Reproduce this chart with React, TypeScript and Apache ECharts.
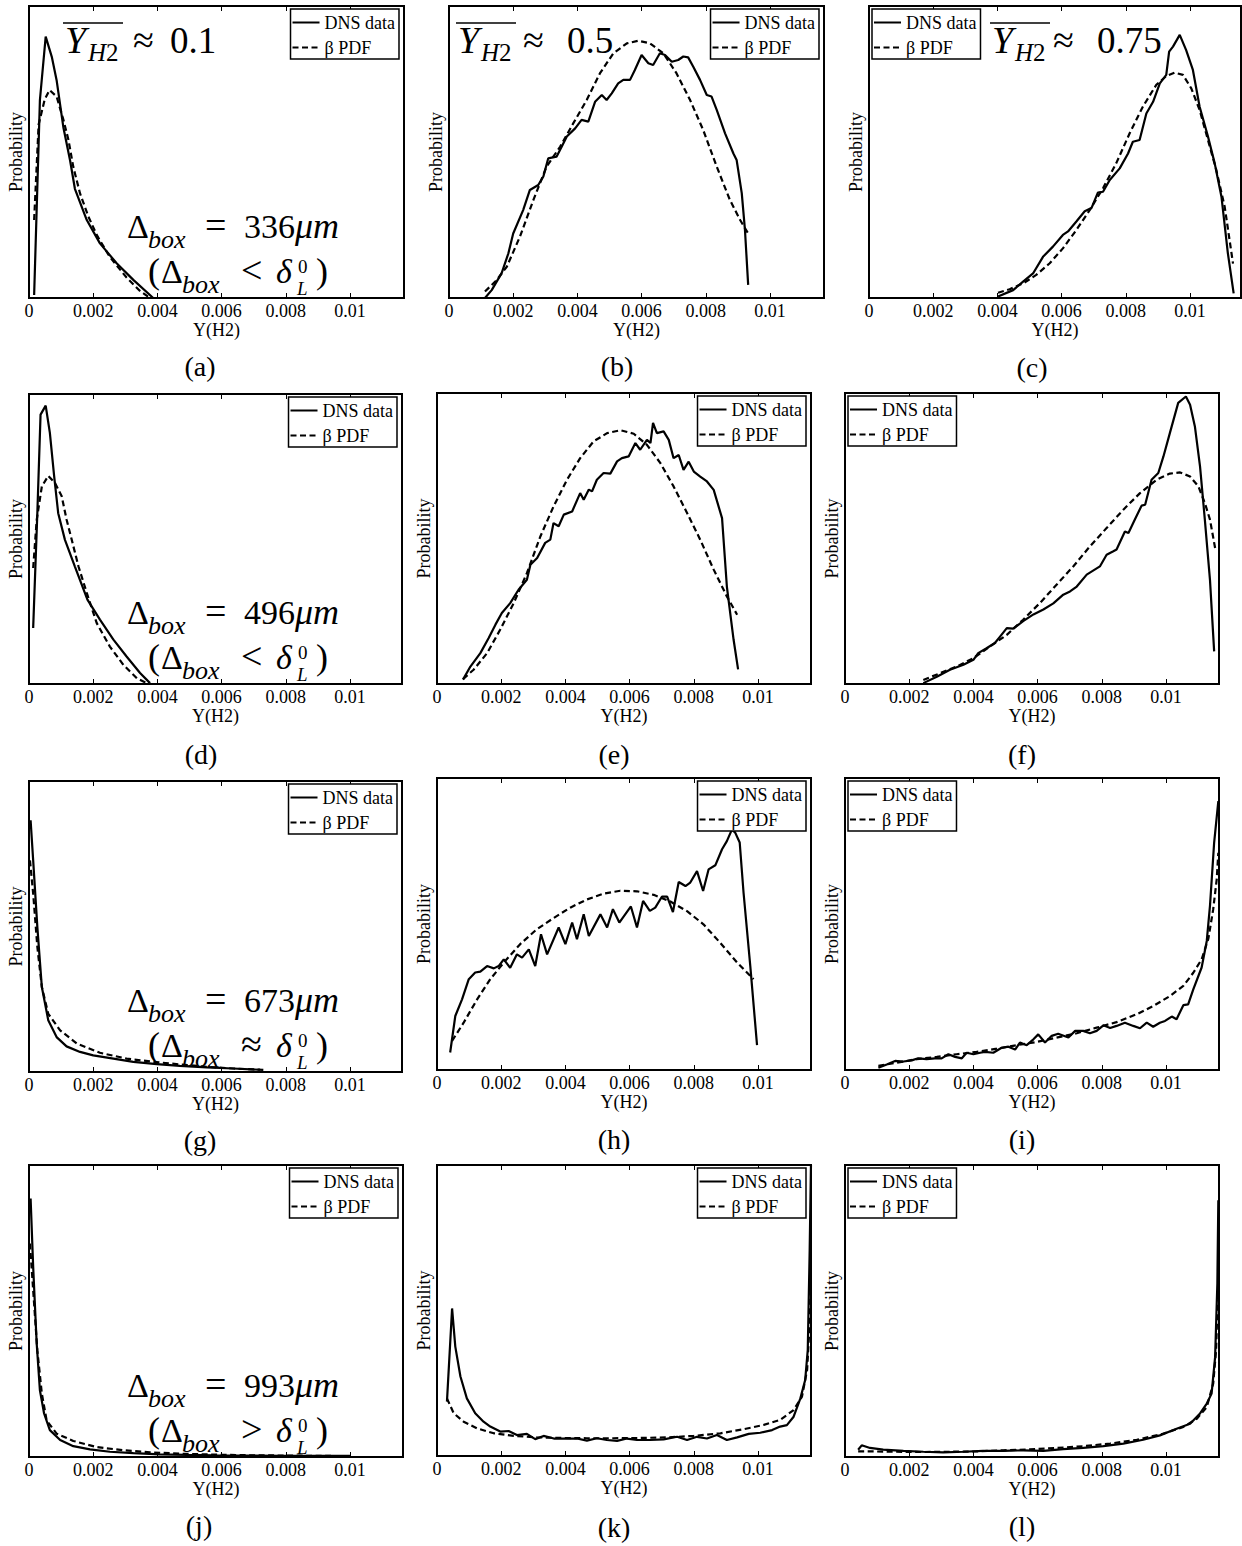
import React, { useEffect, useRef } from 'react';
import * as echarts from 'echarts';

const FONT_NAME = 'Liberation Serif';
const FONT = '"Liberation Serif", "Times New Roman", Times, serif';

// ---------- texts ----------
const xTickLabels = ['0', '0.002', '0.004', '0.006', '0.008', '0.01'];
const xTickStep = 0.002;
const xAxisName = 'Y(H2)';
const yAxisName = 'Probability';
const legendNames = ['DNS data', 'β PDF'];
const panelLetters = ['(a)', '(b)', '(c)', '(d)', '(e)', '(f)', '(g)', '(h)', '(i)', '(j)', '(k)', '(l)'];
const meanValues = ['0.1', '0.5', '0.75'];
const boxSizes = ['336', '496', '673', '993'];
const boxRelations = ['<', '<', '≈', '>'];

// ---------- data: [Y(H2), relative probability] ----------
const dnsA = [[0.00016,0.01],[0.00034,0.678],[0.00052,0.895],[0.00071,0.826],[0.00086,0.746],[0.00107,0.585],[0.00128,0.471],[0.00143,0.374],[0.0018,0.267],[0.00221,0.187],[0.00273,0.119],[0.00325,0.062],[0.00387,0.0]];
const betaA = [[0.00016,0.267],[0.0003,0.594],[0.00049,0.68],[0.00064,0.712],[0.00086,0.69],[0.00107,0.611],[0.00123,0.541],[0.00138,0.449],[0.00159,0.358],[0.00185,0.279],[0.00211,0.216],[0.00252,0.14],[0.00304,0.07],[0.00345,0.025],[0.00377,0.0]];

const dnsB = [[0.00112,0],[0.00133,0.027],[0.00164,0.085],[0.00185,0.153],[0.002,0.221],[0.00231,0.301],[0.00252,0.37],[0.00278,0.387],[0.00294,0.416],[0.00309,0.478],[0.00335,0.484],[0.00351,0.518],[0.00367,0.553],[0.00393,0.581],[0.00413,0.61],[0.00434,0.604],[0.00455,0.672],[0.00476,0.695],[0.00491,0.678],[0.00507,0.701],[0.00527,0.735],[0.00543,0.747],[0.00564,0.747],[0.00579,0.781],[0.006,0.832],[0.00621,0.804],[0.00636,0.798],[0.00657,0.838],[0.00673,0.832],[0.00694,0.809],[0.00714,0.815],[0.0073,0.827],[0.00745,0.824],[0.00761,0.792],[0.00782,0.747],[0.00803,0.695],[0.00818,0.69],[0.00834,0.644],[0.0086,0.564],[0.00886,0.495],[0.00896,0.473],[0.00912,0.359],[0.00922,0.233],[0.00932,0.045]];
const betaB = [[0.00112,0.022],[0.00149,0.062],[0.0018,0.107],[0.00221,0.21],[0.00263,0.336],[0.00304,0.45],[0.00346,0.518],[0.00387,0.598],[0.00429,0.678],[0.0047,0.769],[0.00512,0.838],[0.00554,0.872],[0.0059,0.881],[0.00626,0.872],[0.00668,0.838],[0.00709,0.769],[0.00751,0.678],[0.00792,0.575],[0.00834,0.45],[0.00875,0.336],[0.00907,0.267],[0.00932,0.221]];

const dnsC = [[0.00402,0.005],[0.00449,0.027],[0.0048,0.056],[0.00511,0.084],[0.00542,0.141],[0.00573,0.176],[0.00604,0.216],[0.0062,0.228],[0.00646,0.262],[0.00672,0.297],[0.00693,0.308],[0.00713,0.361],[0.00729,0.364],[0.0075,0.404],[0.00781,0.444],[0.00807,0.495],[0.00822,0.535],[0.00843,0.541],[0.00864,0.632],[0.00885,0.672],[0.00906,0.735],[0.00926,0.764],[0.00935,0.844],[0.00947,0.861],[0.00968,0.901],[0.00988,0.849],[0.01009,0.781],[0.0103,0.655],[0.01056,0.553],[0.01077,0.461],[0.01098,0.347],[0.01118,0.153],[0.01136,0.016]];
const betaC = [[0.00402,0.018],[0.00438,0.03],[0.0048,0.05],[0.00521,0.079],[0.00563,0.119],[0.00604,0.17],[0.00646,0.233],[0.00688,0.302],[0.00729,0.376],[0.0077,0.461],[0.00812,0.564],[0.00853,0.655],[0.00895,0.73],[0.00926,0.76],[0.00952,0.772],[0.00978,0.764],[0.01004,0.718],[0.0103,0.644],[0.01056,0.541],[0.01082,0.438],[0.01108,0.313],[0.01134,0.118]];

const dnsD = [[0.00013,0.193],[0.00026,0.59],[0.00036,0.929],[0.00052,0.96],[0.00065,0.866],[0.00078,0.72],[0.00091,0.589],[0.00112,0.497],[0.00143,0.405],[0.00182,0.291],[0.00221,0.222],[0.00263,0.153],[0.00304,0.095],[0.00346,0.038],[0.00377,0.003]];
const betaD = [[0.00013,0.4],[0.00024,0.566],[0.0004,0.681],[0.0006,0.718],[0.00081,0.693],[0.00102,0.647],[0.00117,0.567],[0.00133,0.498],[0.00154,0.406],[0.0018,0.314],[0.00211,0.21],[0.00252,0.129],[0.00294,0.066],[0.00336,0.02],[0.00367,0.003]];

const dnsE = [[0.00081,0.015],[0.00104,0.06],[0.00135,0.106],[0.00161,0.158],[0.00182,0.204],[0.00202,0.244],[0.00228,0.278],[0.00254,0.324],[0.0028,0.358],[0.00291,0.41],[0.00312,0.433],[0.00337,0.485],[0.00353,0.496],[0.00363,0.553],[0.00379,0.542],[0.00395,0.582],[0.00421,0.593],[0.00446,0.656],[0.00457,0.633],[0.00473,0.668],[0.00483,0.662],[0.00498,0.702],[0.00519,0.725],[0.0054,0.723],[0.00561,0.765],[0.00576,0.776],[0.00597,0.782],[0.00618,0.828],[0.00633,0.805],[0.00654,0.839],[0.00665,0.828],[0.00673,0.897],[0.00685,0.862],[0.00706,0.868],[0.00722,0.839],[0.00737,0.776],[0.00753,0.787],[0.00768,0.736],[0.00784,0.764],[0.008,0.73],[0.0082,0.713],[0.00841,0.696],[0.00862,0.667],[0.00888,0.57],[0.00903,0.335],[0.00924,0.152],[0.00938,0.05]];
const betaE = [[0.00081,0.017],[0.00114,0.049],[0.00156,0.106],[0.00197,0.187],[0.00239,0.278],[0.0028,0.381],[0.00322,0.507],[0.00363,0.61],[0.00405,0.702],[0.00446,0.776],[0.00488,0.834],[0.0053,0.862],[0.00571,0.872],[0.00613,0.86],[0.00654,0.822],[0.00696,0.759],[0.00737,0.679],[0.00779,0.588],[0.0082,0.496],[0.00862,0.393],[0.00903,0.301],[0.00935,0.238]];

const dnsF = [[0.00244,0.003],[0.00286,0.025],[0.00327,0.049],[0.00369,0.066],[0.004,0.083],[0.00415,0.106],[0.00441,0.123],[0.00467,0.141],[0.00483,0.163],[0.00504,0.192],[0.00524,0.19],[0.00555,0.216],[0.00587,0.239],[0.00618,0.256],[0.00649,0.277],[0.0068,0.307],[0.00701,0.318],[0.00722,0.335],[0.00753,0.376],[0.00794,0.404],[0.00815,0.444],[0.00836,0.456],[0.00846,0.462],[0.00872,0.524],[0.00883,0.519],[0.00903,0.565],[0.00924,0.613],[0.00935,0.616],[0.00955,0.702],[0.00976,0.725],[0.00992,0.782],[0.01012,0.862],[0.01038,0.966],[0.01062,0.988],[0.01075,0.96],[0.0109,0.885],[0.01106,0.748],[0.01121,0.565],[0.01137,0.358],[0.0115,0.112]];
const betaF = [[0.00244,0.014],[0.00296,0.037],[0.00348,0.06],[0.004,0.089],[0.00452,0.129],[0.00504,0.169],[0.00555,0.221],[0.00607,0.278],[0.00659,0.341],[0.00711,0.404],[0.00763,0.473],[0.00815,0.536],[0.00867,0.599],[0.00919,0.656],[0.00971,0.702],[0.01012,0.723],[0.01044,0.727],[0.01075,0.713],[0.01101,0.679],[0.01121,0.622],[0.01137,0.565],[0.01153,0.467]];

const dnsG = [[0.00005,0.865],[0.00013,0.727],[0.00026,0.498],[0.0004,0.292],[0.0006,0.178],[0.00086,0.12],[0.00117,0.088],[0.00159,0.069],[0.002,0.057],[0.00263,0.046],[0.00325,0.035],[0.00398,0.027],[0.0047,0.021],[0.00554,0.016],[0.00636,0.012],[0.0073,0.007]];
const betaG = [[0.00003,0.727],[0.00013,0.613],[0.00026,0.43],[0.0004,0.292],[0.0006,0.2],[0.00097,0.143],[0.00149,0.098],[0.00221,0.066],[0.00304,0.046],[0.00387,0.035],[0.0047,0.026],[0.00554,0.018],[0.00636,0.012],[0.0072,0.008]];

const dnsH = [[0.00041,0.06],[0.00057,0.185],[0.00078,0.242],[0.00099,0.311],[0.00119,0.334],[0.00135,0.337],[0.00156,0.356],[0.00177,0.348],[0.00192,0.356],[0.00208,0.379],[0.00228,0.35],[0.00249,0.396],[0.00265,0.385],[0.00286,0.413],[0.00306,0.356],[0.00324,0.465],[0.00343,0.396],[0.00379,0.488],[0.004,0.431],[0.00421,0.505],[0.00436,0.448],[0.00457,0.533],[0.00473,0.459],[0.00509,0.533],[0.0053,0.488],[0.00548,0.551],[0.00568,0.505],[0.00604,0.56],[0.00623,0.488],[0.00642,0.579],[0.00663,0.545],[0.0068,0.556],[0.00701,0.594],[0.00717,0.594],[0.00735,0.541],[0.00753,0.644],[0.00774,0.63],[0.00789,0.642],[0.0081,0.681],[0.00829,0.613],[0.00846,0.687],[0.00867,0.701],[0.00888,0.756],[0.00903,0.784],[0.00919,0.824],[0.00929,0.813],[0.00943,0.779],[0.00955,0.607],[0.00976,0.356],[0.00997,0.085]];
const betaH = [[0.00047,0.1],[0.00083,0.162],[0.00125,0.242],[0.00166,0.311],[0.00208,0.368],[0.00259,0.431],[0.00311,0.482],[0.00364,0.521],[0.00415,0.556],[0.00467,0.584],[0.00519,0.604],[0.00571,0.614],[0.00623,0.612],[0.00675,0.6],[0.00727,0.577],[0.00779,0.544],[0.0083,0.499],[0.00882,0.436],[0.00935,0.368],[0.00986,0.311]];

const dnsI = [[0.00104,0.008],[0.0013,0.019],[0.00156,0.031],[0.00182,0.029],[0.00208,0.033],[0.00228,0.04],[0.00254,0.037],[0.0028,0.04],[0.00301,0.04],[0.00322,0.054],[0.00343,0.045],[0.00364,0.04],[0.00379,0.059],[0.004,0.054],[0.00421,0.059],[0.00436,0.062],[0.00462,0.059],[0.00488,0.076],[0.00509,0.08],[0.0053,0.07],[0.00545,0.094],[0.00566,0.085],[0.00587,0.105],[0.00602,0.122],[0.00623,0.094],[0.00644,0.117],[0.00664,0.124],[0.00696,0.111],[0.00717,0.134],[0.00742,0.134],[0.00763,0.126],[0.00784,0.134],[0.00805,0.153],[0.00826,0.144],[0.00846,0.151],[0.00872,0.162],[0.00898,0.151],[0.00919,0.143],[0.0094,0.162],[0.0096,0.148],[0.00981,0.162],[0.00997,0.168],[0.01018,0.183],[0.01033,0.174],[0.01054,0.222],[0.01069,0.225],[0.01085,0.276],[0.01111,0.351],[0.01127,0.442],[0.01137,0.562],[0.0115,0.779],[0.01163,0.921]];
const betaI = [[0.00104,0.014],[0.00161,0.025],[0.00223,0.037],[0.00286,0.045],[0.00348,0.054],[0.0041,0.062],[0.00473,0.073],[0.00535,0.085],[0.00597,0.096],[0.00659,0.111],[0.00722,0.126],[0.00784,0.145],[0.00846,0.164],[0.00909,0.191],[0.0096,0.219],[0.01012,0.253],[0.01054,0.288],[0.01085,0.333],[0.01111,0.379],[0.01132,0.45],[0.01147,0.55],[0.01158,0.653],[0.01163,0.744]];

const dnsJ = [[0.00005,0.885],[0.00013,0.651],[0.00024,0.388],[0.00034,0.228],[0.00047,0.149],[0.00065,0.092],[0.00097,0.058],[0.00138,0.037],[0.0019,0.026],[0.00252,0.018],[0.00325,0.013],[0.00408,0.009],[0.00491,0.007],[0.00574,0.006],[0.00678,0.005],[0.00792,0.004],[0.00896,0.004],[0.01,0.004]];
const betaJ = [[0.00003,0.731],[0.00013,0.571],[0.00026,0.365],[0.0004,0.217],[0.00055,0.125],[0.00086,0.08],[0.00138,0.055],[0.00211,0.034],[0.00294,0.023],[0.00377,0.016],[0.00481,0.011],[0.00585,0.008],[0.00688,0.006],[0.00792,0.005],[0.00896,0.004],[0.01,0.003]];

const dnsK = [[0.00031,0.187],[0.00047,0.507],[0.00057,0.376],[0.00073,0.273],[0.00093,0.198],[0.00119,0.147],[0.00145,0.118],[0.00166,0.101],[0.00197,0.084],[0.00223,0.086],[0.00249,0.072],[0.0028,0.076],[0.00306,0.058],[0.00332,0.069],[0.00364,0.06],[0.00405,0.06],[0.00436,0.06],[0.00467,0.053],[0.00498,0.061],[0.00529,0.055],[0.00561,0.052],[0.00592,0.06],[0.00623,0.055],[0.00664,0.055],[0.00706,0.057],[0.00748,0.066],[0.00779,0.055],[0.0081,0.066],[0.00841,0.06],[0.00872,0.072],[0.00903,0.055],[0.00935,0.064],[0.00971,0.076],[0.01007,0.08],[0.01044,0.089],[0.01069,0.101],[0.0109,0.106],[0.01111,0.135],[0.01132,0.198],[0.01147,0.261],[0.01155,0.364],[0.01161,0.708],[0.01165,1.0]];
const betaK = [[0.00031,0.198],[0.00052,0.147],[0.00083,0.118],[0.00125,0.095],[0.00177,0.078],[0.00239,0.069],[0.00312,0.064],[0.00384,0.062],[0.00467,0.061],[0.0055,0.061],[0.00633,0.062],[0.00716,0.064],[0.008,0.069],[0.00883,0.078],[0.00955,0.092],[0.01018,0.107],[0.01069,0.124],[0.01111,0.158],[0.01137,0.204],[0.01153,0.296],[0.01161,0.456],[0.01165,0.616]];

const dnsL = [[0.00041,0.025],[0.00052,0.04],[0.00078,0.031],[0.00119,0.025],[0.00182,0.021],[0.00244,0.018],[0.00306,0.016],[0.00369,0.018],[0.0043,0.021],[0.00493,0.021],[0.00555,0.023],[0.00618,0.021],[0.0068,0.027],[0.00742,0.031],[0.00805,0.037],[0.00867,0.046],[0.00929,0.059],[0.00981,0.074],[0.01033,0.097],[0.01075,0.114],[0.01106,0.149],[0.01127,0.183],[0.01142,0.217],[0.01153,0.342],[0.0116,0.594],[0.01163,0.879]];
const betaL = [[0.00041,0.019],[0.00088,0.019],[0.00161,0.018],[0.00244,0.017],[0.00327,0.018],[0.0041,0.019],[0.00493,0.023],[0.00576,0.026],[0.00659,0.031],[0.00742,0.037],[0.00826,0.046],[0.00909,0.059],[0.00992,0.08],[0.01054,0.103],[0.01096,0.131],[0.01127,0.171],[0.01147,0.251],[0.01156,0.365],[0.01161,0.537]];

const dnsSeries = [dnsA, dnsB, dnsC, dnsD, dnsE, dnsF, dnsG, dnsH, dnsI, dnsJ, dnsK, dnsL];
const betaSeries = [betaA, betaB, betaC, betaD, betaE, betaF, betaG, betaH, betaI, betaJ, betaK, betaL];

// ---------- layout (pixels) ----------
const PX_PER_UNIT = 32100; // 0.01 of Y(H2) spans 321 px
const gridBoxes = [
  [29, 6, 375, 292], [449, 6, 375, 292], [869, 6, 372, 292],
  [29, 394, 373, 290], [437, 393, 374, 291], [845, 393, 374, 291],
  [29, 781, 373, 291], [437, 778, 374, 292], [845, 778, 374, 292],
  [29, 1165, 374, 292], [437, 1165, 374, 291], [845, 1165, 374, 292],
];
const legendOnLeft = [false, false, true, false, false, true, false, false, true, false, false, true];
const letterPos = [[200, 366], [617, 366], [1032, 367], [201, 754], [614, 754], [1022, 754], [200, 1140], [614, 1139], [1022, 1139], [199, 1525], [614, 1527], [1022, 1526]];
const meanPos = [[65, 133, 170], [458, 523, 567], [992, 1053, 1097]];
const boxPanels = [0, 3, 6, 9];

function tickLabel(v: number): string {
  const idx = Math.round(v / xTickStep);
  if (Math.abs(v - idx * xTickStep) < 1e-9 && idx >= 0 && idx < xTickLabels.length) return xTickLabels[idx];
  return '';
}

function mt(x: number, baseline: number, text: string, size: number, italic = false, align = 'left') {
  return {
    type: 'text', x, y: baseline - 0.34 * size, silent: true, z: 100,
    style: {
      text, fontSize: size, fontFamily: FONT_NAME, fontStyle: italic ? 'italic' : 'normal', fill: '#000',
      textAlign: align, textVerticalAlign: 'middle', align, verticalAlign: 'middle',
    },
  };
}

function buildOption() {
  const grid: any[] = [];
  const xAxis: any[] = [];
  const yAxis: any[] = [];
  const series: any[] = [];
  const legend: any[] = [];
  const elements: any[] = [];

  gridBoxes.forEach(([left, top, w, h], i) => {
    const max = w / PX_PER_UNIT;
    grid.push({ left, top, width: w, height: h, show: true, borderColor: '#000', borderWidth: 2, backgroundColor: 'transparent', containLabel: false });
    xAxis.push({
      type: 'value', gridIndex: i, position: 'bottom', min: 0, max, interval: xTickStep,
      axisLine: { show: false },
      axisTick: { show: true, inside: true, length: 5, lineStyle: { color: '#000', width: 1 } },
      axisLabel: { show: true, margin: 4, fontFamily: FONT, fontSize: 18, color: '#000', showMaxLabel: false, formatter: (v: number) => tickLabel(v) },
      splitLine: { show: false },
      name: xAxisName, nameLocation: 'middle', nameGap: 20,
      nameTextStyle: { fontFamily: FONT, fontSize: 18, color: '#000' },
    });
    xAxis.push({
      type: 'value', gridIndex: i, position: 'top', min: 0, max, interval: xTickStep,
      axisLine: { show: false },
      axisTick: { show: true, inside: true, length: 5, lineStyle: { color: '#000', width: 1 } },
      axisLabel: { show: false }, splitLine: { show: false },
    });
    yAxis.push({
      type: 'value', gridIndex: i, min: 0, max: 1,
      axisLine: { show: false }, axisTick: { show: false }, axisLabel: { show: false }, splitLine: { show: false },
      name: yAxisName, nameLocation: 'middle', nameGap: 4, nameRotate: 90,
      nameTextStyle: { fontFamily: FONT, fontSize: 18, color: '#000' },
    });
    series.push({
      type: 'line', name: legendNames[0], xAxisIndex: 2 * i, yAxisIndex: i, data: dnsSeries[i],
      symbol: 'none', showSymbol: false, smooth: false, z: 3,
      itemStyle: { color: '#000' }, lineStyle: { color: '#000', width: 2.2, type: 'solid' },
    });
    series.push({
      type: 'line', name: legendNames[1], xAxisIndex: 2 * i, yAxisIndex: i, data: betaSeries[i],
      symbol: 'none', showSymbol: false, smooth: false, z: 3,
      itemStyle: { color: '#000' }, lineStyle: { color: '#000', width: 2.2, type: [6, 3.5] },
    });
    const lg: any = {
      show: true, orient: 'vertical', top: top + 3,
      itemWidth: 27, itemHeight: 12, itemGap: 6, padding: [4, 4, 2, 1],
      borderColor: '#000', borderWidth: 1.5, backgroundColor: '#fff', selectedMode: false,
      itemStyle: { opacity: 0 },
      textStyle: { fontFamily: FONT, fontSize: 18, color: '#000', lineHeight: 19 },
      data: legendNames, z: 10,
    };
    if (legendOnLeft[i]) lg.left = left + 3; else lg.right = 1242 - (left + w - 5);
    legend.push(lg);

    const [lx, ly] = letterPos[i];
    elements.push({
      type: 'text', x: lx, y: ly, silent: true,
      style: { text: panelLetters[i], fontSize: 28, fontFamily: FONT_NAME, fill: '#000', textAlign: 'center', textVerticalAlign: 'middle', align: 'center', verticalAlign: 'middle' },
    });
  });

  // mean mass fraction annotations (a), (b), (c)
  meanPos.forEach(([x0, ax, nx], i) => {
    const base = 53;
    elements.push(mt(x0, base, 'Y', 38, true));
    elements.push(mt(x0 + 23, base + 8, 'H', 25, true));
    elements.push(mt(x0 + 41, base + 8, '2', 25));
    elements.push({ type: 'line', silent: true, z: 100, shape: { x1: x0 - 2, y1: 23, x2: x0 + 58, y2: 23 }, style: { stroke: '#000', lineWidth: 1.5 } });
    elements.push(mt(ax, base, '≈', 38));
    elements.push(mt(nx, base, meanValues[i], 37));
  });

  // box size annotations (a), (d), (g), (j)
  boxPanels.forEach((pi, r) => {
    const [left, top, , h] = gridBoxes[pi];
    const bottom = top + h;
    const B1 = bottom - 60, B2 = bottom - 15;
    const o = left;
    elements.push(mt(o + 98, B1, 'Δ', 34));
    elements.push(mt(o + 119, B1 + 10, 'box', 26, true));
    elements.push(mt(o + 176, B1, '=', 38));
    elements.push(mt(o + 215, B1, boxSizes[r], 34));
    elements.push(mt(o + 266, B1, 'μm', 36, true));
    elements.push(mt(o + 119, B2, '(', 36));
    elements.push(mt(o + 132, B2, 'Δ', 34));
    elements.push(mt(o + 153, B2 + 10, 'box', 26, true));
    elements.push(mt(o + 212, B2, boxRelations[r], 38));
    elements.push(mt(o + 247, B2, 'δ', 34, true));
    elements.push(mt(o + 269, B2 - 10, '0', 19));
    elements.push(mt(o + 268, B2 + 12, 'L', 19, true));
    elements.push(mt(o + 287, B2, ')', 36));
  });

  return {
    animation: false,
    backgroundColor: '#fff',
    textStyle: { fontFamily: FONT },
    grid, xAxis, yAxis, series, legend,
    graphic: { elements },
  };
}

export default function App() {
  const ref = useRef<HTMLDivElement>(null);
  useEffect(() => {
    if (!ref.current) return;
    const chart = echarts.init(ref.current, undefined, { renderer: 'svg' });
    chart.setOption(buildOption() as any);
    return () => chart.dispose();
  }, []);
  return <div ref={ref} style={{ position: 'absolute', left: 0, top: 0, width: 1242, height: 1546, background: '#fff' }} />;
}
